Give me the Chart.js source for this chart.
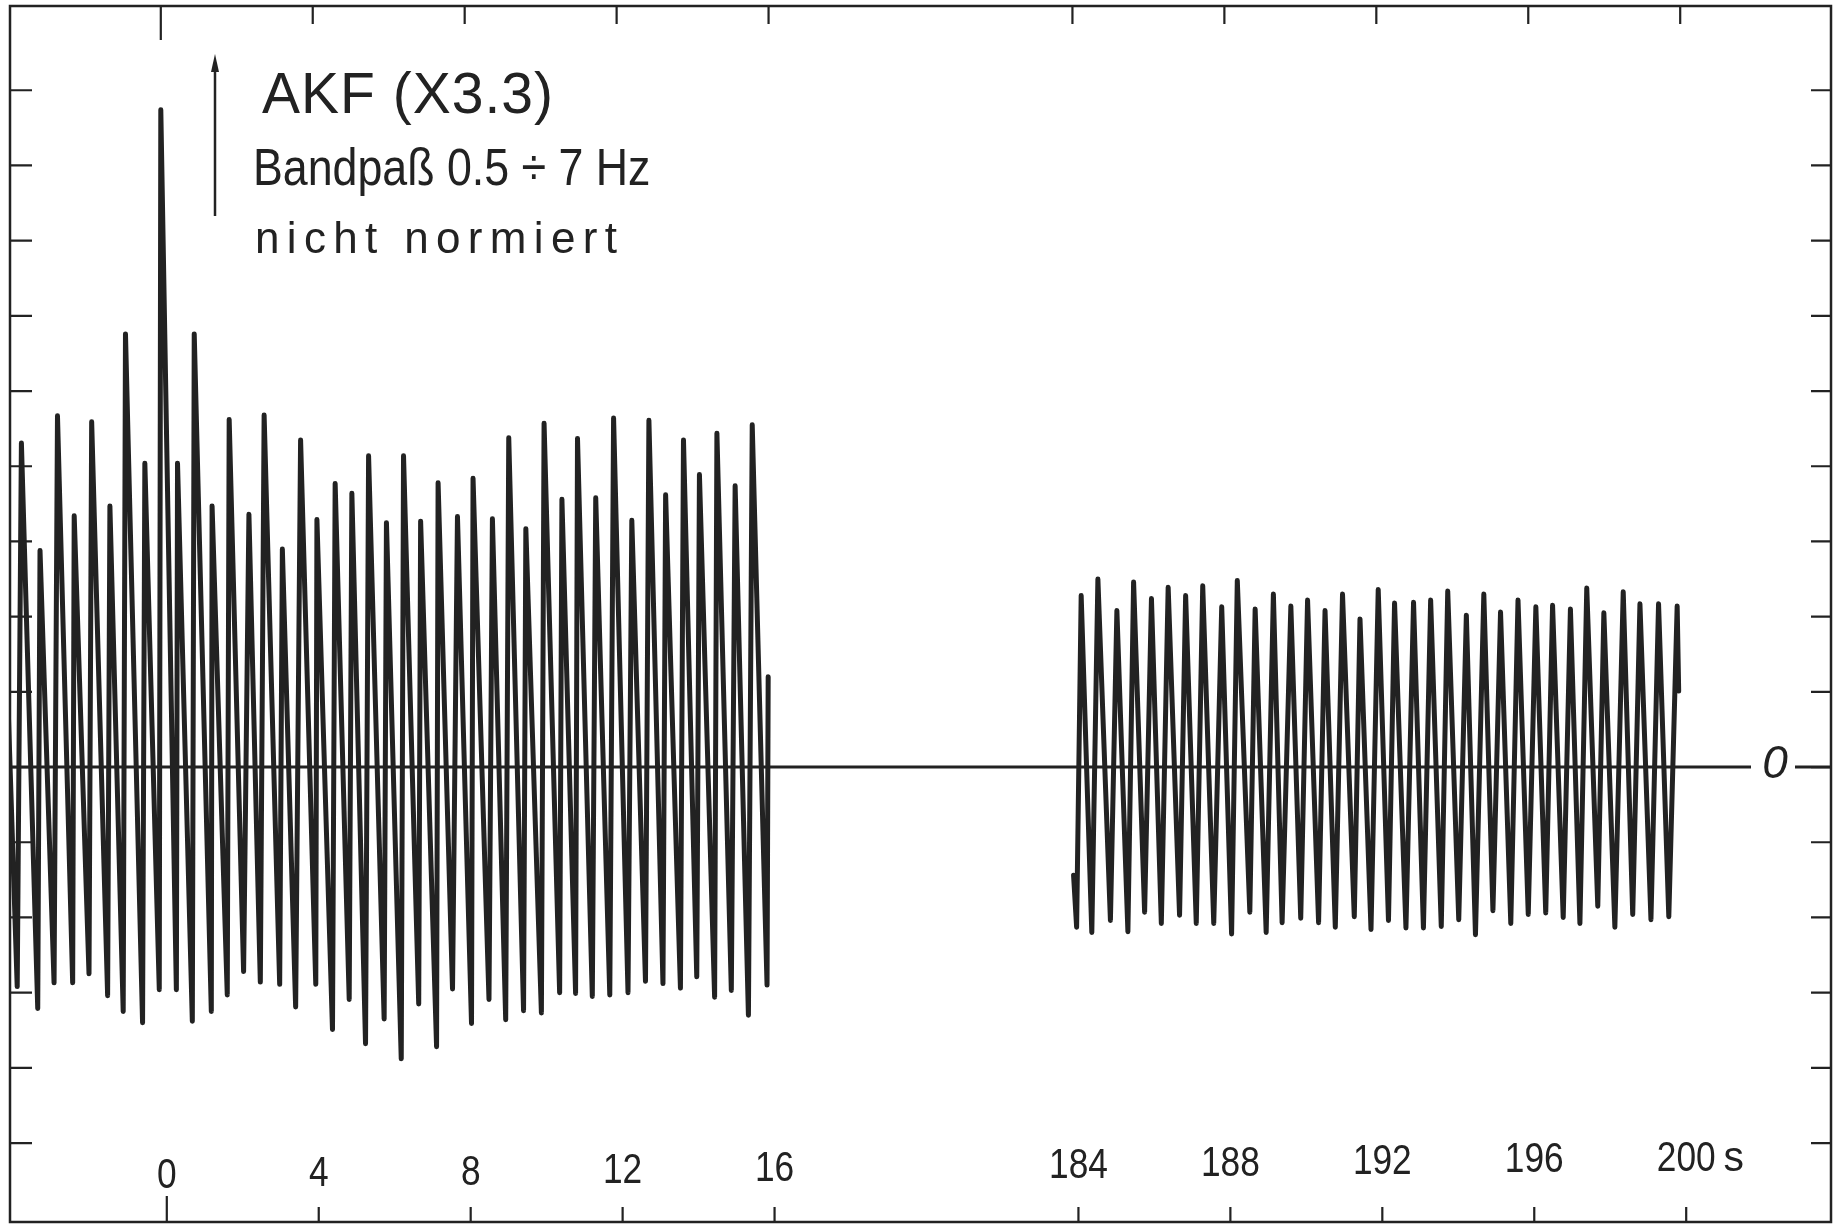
<!DOCTYPE html>
<html><head><meta charset="utf-8">
<script src="https://cdn.jsdelivr.net/npm/chart.js@4.4.1/dist/chart.umd.min.js"></script>
<style>html,body{margin:0;padding:0;background:#fff;overflow:hidden}canvas{display:block}</style>
</head><body>
<canvas id="c" width="1838" height="1227"></canvas>
<script>
// ---- data: lag (s) and AKF value (in tick units) of every drawn extremum ----
const seg1Lag = [-4.18, -3.78,-3.67, -3.24,-3.18, -2.81,-2.72, -2.32,-2.28, -1.89,-1.82, -1.40,-1.34, -0.99,-0.93, -0.48,-0.42, -0.04,0.00, 0.41,0.44, 0.83,0.88, 1.33,1.35, 1.75,1.80, 2.18,2.32, 2.62,2.72, 3.13,3.20, 3.55,3.68, 4.08,4.11, 4.52,4.59, 4.96,5.03, 5.39,5.47, 5.88,5.94, 6.33,6.39, 6.79,6.84, 7.26,7.30, 7.68,7.81, 8.18,8.22, 8.64,8.73, 9.08,9.16, 9.55,9.61, 10.02,10.09, 10.50,10.56, 10.92,10.97, 11.36,11.45, 11.82,11.92, 12.30,12.40, 12.76,12.85, 13.22,13.29, 13.68,13.76, 14.11,14.18, 14.58,14.64, 15.02,15.12, 15.47,15.57, 15.96,15.99];
const seg1Akf = [3.29, -2.92,4.31, -3.21,2.88, -2.87,4.67, -2.87,3.34, -2.75,4.59, -3.04,3.47, -3.25,5.76, -3.40,4.04, -2.96,8.74, -2.96,4.04, -3.38,5.76, -3.25,3.47, -3.03,4.62, -2.72,3.36, -2.86,4.68, -2.89,2.90, -3.19,4.35, -2.89,3.29, -3.49,3.77, -3.09,3.64, -3.68,4.14, -3.35,3.25, -3.88,4.14, -3.15,3.27, -3.72,3.78, -2.95,3.33, -3.41,3.84, -3.09,3.30, -3.36,4.38, -3.24,3.17, -3.27,4.57, -3.00,3.56, -3.01,4.37, -3.05,3.58, -3.03,4.64, -3.00,3.28, -2.85,4.61, -2.88,3.62, -2.94,4.35, -2.79,3.89, -3.06,4.44, -2.97,3.74, -3.30,4.55, -2.90,1.20];
const seg2Lag = [184.03, 184.11,184.23, 184.51,184.67, 185.00,185.17, 185.46,185.61, 185.90,186.08, 186.34,186.52, 186.82,186.98, 187.26,187.43, 187.72,187.93, 188.19,188.34, 188.67,188.81, 189.10,189.29, 189.52,189.75, 190.01,190.19, 190.48,190.65, 190.92,191.11, 191.42,191.57, 191.86,192.05, 192.32,192.48, 192.78,192.98, 193.24,193.43, 193.71,193.88, 194.17,194.37, 194.61,194.83, 195.07,195.27, 195.54,195.73, 196.00,196.20, 196.46,196.64, 196.92,197.11, 197.36,197.54, 197.83,197.99, 198.28,198.50, 198.75,198.94, 199.23,199.43, 199.70,199.92, 199.96];
const seg2Akf = [-1.44, -2.13,2.28, -2.20,2.50, -2.04,2.08, -2.19,2.46, -1.93,2.24, -2.08,2.39, -1.97,2.28, -2.08,2.41, -2.08,2.13, -2.22,2.48, -1.93,2.10, -2.20,2.30, -2.07,2.14, -2.01,2.22, -2.07,2.08, -2.13,2.30, -1.99,1.97, -2.16,2.36, -2.04,2.18, -2.14,2.19, -2.14,2.22, -2.12,2.34, -2.03,2.02, -2.23,2.30, -1.91,2.06, -2.08,2.22, -1.96,2.13, -1.94,2.15, -2.00,2.10, -2.08,2.38, -1.85,2.05, -2.13,2.33, -1.96,2.17, -2.03,2.17, -1.99,2.14, 1.01];

const xTickValues = [0, 4, 8, 12, 16, 184, 188, 192, 196, 200];
const xTickLabels = ['0', '4', '8', '12', '16', '184', '188', '192', '196', '200 s'];
const yTickValues = [-5, -4, -3, -2, -1, 0, 1, 2, 3, 4, 5, 6, 7, 8, 9];
const zeroLabel = '0';
const noteLines = ['AKF (X3.3)', 'Bandpaß 0.5 ÷ 7 Hz', 'nicht normiert'];

// ---- broken time axis: the stretch 16 s ... 184 s is shown as 8 s of axis ----
const BREAK_END = 16, BREAK_RESUME = 184, BREAK_SHOWN = 8;
function axisPos(t) { return t <= BREAK_END ? t : t - (BREAK_RESUME - BREAK_END - BREAK_SHOWN); }
function toPoints(lags, vals) { return lags.map((t, i) => ({ x: axisPos(t), y: vals[i] })); }

const INK = '#222222';
const SANS = '"Liberation Sans", Arial, sans-serif';

function drawSpaced(ctx, text, x, baseline, font, targetWidth) {
  ctx.font = font;
  const chars = Array.from(text);
  const widths = chars.map(c => ctx.measureText(c).width);
  const total = widths.reduce((a, b) => a + b, 0);
  const gap = chars.length > 1 ? (targetWidth - total) / (chars.length - 1) : 0;
  let cx = x;
  chars.forEach((c, i) => { ctx.fillText(c, cx, baseline); cx += widths[i] + gap; });
}
function drawSqueezed(ctx, text, cx, baseline, font, sx, align) {
  ctx.font = font;
  const w = ctx.measureText(text).width * sx;
  ctx.save();
  ctx.translate(align === 'left' ? cx : cx - w / 2, baseline);
  ctx.scale(sx, 1);
  ctx.textAlign = 'left';
  ctx.fillText(text, 0, 0);
  ctx.restore();
}

const paper = {
  id: 'paper',
  beforeDatasetsDraw(chart) {
    const { ctx, chartArea: a, scales: { y } } = chart;
    const y0 = y.getPixelForValue(0);
    const lblX = a.right - 56;
    ctx.save();
    ctx.strokeStyle = INK; ctx.lineWidth = 3;
    ctx.beginPath();
    ctx.moveTo(a.left, y0); ctx.lineTo(lblX - 24, y0);
    ctx.moveTo(lblX + 20, y0); ctx.lineTo(a.right, y0);
    ctx.stroke();
    ctx.restore();
  },
  afterDatasetsDraw(chart) {
    const { ctx, chartArea: a, scales: { x, y } } = chart;
    ctx.save();
    ctx.strokeStyle = INK; ctx.fillStyle = INK; ctx.lineCap = 'butt';
    // frame
    ctx.lineWidth = 2.5;
    ctx.strokeRect(a.left, a.top, a.right - a.left, a.bottom - a.top);
    // value ticks, left and right, pointing inwards
    ctx.lineWidth = 2.2;
    ctx.beginPath();
    yTickValues.forEach(v => {
      const py = y.getPixelForValue(v);
      ctx.moveTo(a.left, py); ctx.lineTo(a.left + 22, py);
      ctx.moveTo(a.right, py); ctx.lineTo(a.right - 20, py);
    });
    // time ticks, top and bottom
    xTickValues.forEach(t => {
      const px = x.getPixelForValue(axisPos(t));
      ctx.moveTo(px, a.top); ctx.lineTo(px, a.top + (t === 0 ? 34 : 18));
      ctx.moveTo(px + 6, a.bottom); ctx.lineTo(px + 6, a.bottom - (t === 0 ? 26 : 15));
    });
    ctx.stroke();
    // time labels
    ctx.textBaseline = 'alphabetic';
    xTickValues.forEach((t, i) => {
      const px = x.getPixelForValue(axisPos(t)) + 6;
      const base = 1188 - 0.0115 * (px - 170);
      const lbl = xTickLabels[i];
      const font = '43px ' + SANS;
      if (lbl.indexOf(' ') > 0) {
        const num = lbl.split(' ')[0];
        ctx.font = font;
        const w = ctx.measureText(num).width * 0.82;
        drawSqueezed(ctx, num, px - w / 2, base, font, 0.82, 'left');
        drawSqueezed(ctx, lbl.slice(num.length).trim(), px + w / 2 + 8, base, font, 0.95, 'left');
      } else {
        drawSqueezed(ctx, lbl, px, base, font, 0.82, 'center');
      }
    });
    // zero label at right end of the base line
    ctx.font = 'italic 46px ' + SANS;
    ctx.textAlign = 'center'; ctx.textBaseline = 'middle';
    ctx.fillText(zeroLabel, a.right - 56, y.getPixelForValue(0) - 2);
    // notes
    ctx.textAlign = 'left'; ctx.textBaseline = 'alphabetic';
    drawSpaced(ctx, noteLines[0], 262, 113, '57px ' + SANS, 291);
    drawSqueezed(ctx, noteLines[1], 253, 185, '52px ' + SANS, 0.86, 'left');
    drawSpaced(ctx, noteLines[2], 255, 253, '44px ' + SANS, 362);
    // arrow
    ctx.lineWidth = 2.5;
    ctx.beginPath(); ctx.moveTo(215, 216); ctx.lineTo(215, 62); ctx.stroke();
    ctx.beginPath(); ctx.moveTo(215, 54); ctx.lineTo(211, 72); ctx.lineTo(219, 72); ctx.closePath(); ctx.fill();
    ctx.restore();
  }
};

const lineStyle = {
  borderColor: INK, borderWidth: 5, pointRadius: 0, tension: 0,
  borderJoinStyle: 'round', borderCapStyle: 'round', fill: false
};

new Chart(document.getElementById('c'), {
  type: 'line',
  data: {
    datasets: [
      Object.assign({ label: 'AKF 0-16 s', data: toPoints(seg1Lag, seg1Akf) }, lineStyle),
      Object.assign({ label: 'AKF 184-200 s', data: toPoints(seg2Lag, seg2Akf) }, lineStyle)
    ]
  },
  options: {
    responsive: false, animation: false, devicePixelRatio: 1, events: [],
    layout: { padding: { left: 10, top: 6, right: 7, bottom: 5 } },
    plugins: { legend: { display: false }, tooltip: { enabled: false } },
    scales: {
      x: { type: 'linear', min: -3.97, max: 43.97, display: false },
      y: { type: 'linear', min: -6.05, max: 10.12, display: false }
    }
  },
  plugins: [paper]
});
</script>
</body></html>
